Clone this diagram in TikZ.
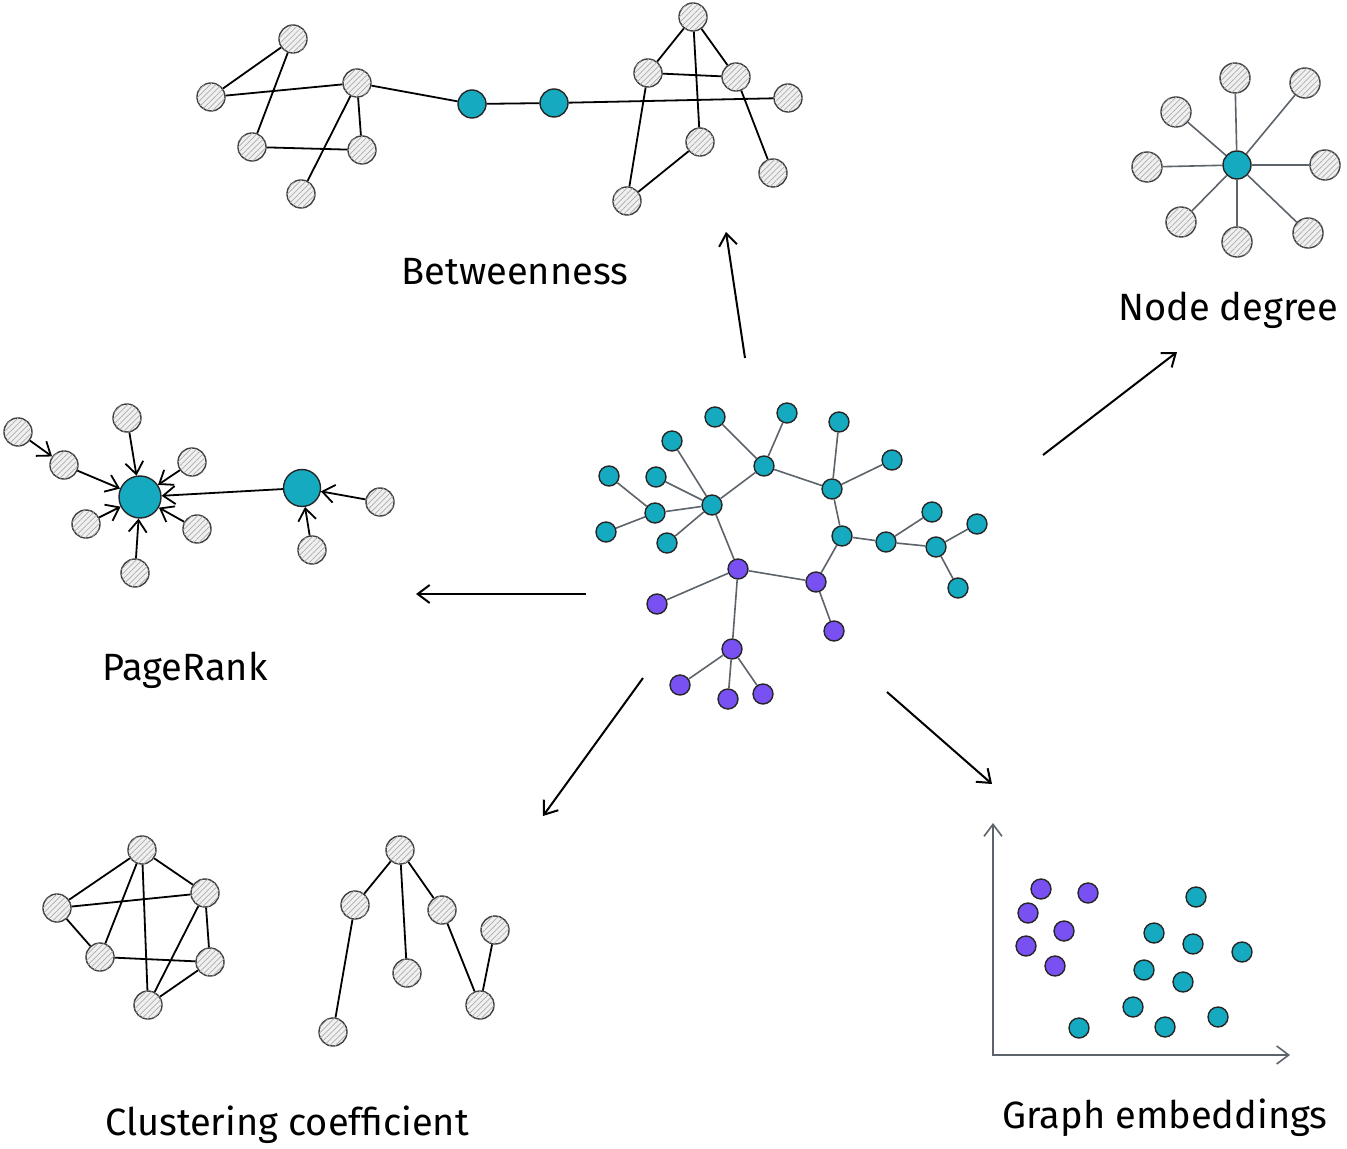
\documentclass[tikz,border=0pt]{standalone}
\usepackage{fontspec}
\setmainfont{Fira Sans}
\usetikzlibrary{arrows.meta, patterns.meta}

\definecolor{nteal}{HTML}{15AABF}
\definecolor{nviolet}{HTML}{7950F2}
\definecolor{nline}{HTML}{5C636A}

\begin{document}
\begin{tikzpicture}[x=0.5pt, y=-0.5pt, >={Straight Barb[length=6pt, width=9pt]},
  gn/.style={circle, draw=black!75, line width=0.7pt, fill=gray!12, postaction={pattern={Lines[angle=45, distance=2pt, line width=0.35pt]}, pattern color=gray!65}, minimum size=14pt, inner sep=0pt},
  tn/.style={circle, draw=black!85, line width=0.7pt, fill=nteal, minimum size=10pt, inner sep=0pt},
  vn/.style={tn, fill=nviolet},
  ed/.style={line width=0.9pt},
  ged/.style={draw=nline, line width=0.8pt},
  big/.style={->, line width=1pt},
  lbl/.style={font=\fontsize{19}{23}\selectfont}]
\useasboundingbox (0,0) rectangle (1347,1149);

% Betweenness
\node[gn] (bl1) at (293,39) {};
\node[gn] (bl2) at (211,97) {};
\node[gn] (bl3) at (357,83) {};
\node[gn] (bl4) at (252,147) {};
\node[gn] (bl5) at (362,150) {};
\node[gn] (bl6) at (301,194) {};
\node[tn, minimum size=14pt] (bt1) at (472,104) {};
\node[tn, minimum size=14pt] (bt2) at (554,103) {};
\node[gn] (br1) at (693,17) {};
\node[gn] (br2) at (648,73) {};
\node[gn] (br3) at (736,77) {};
\node[gn] (br4) at (788,98) {};
\node[gn] (br5) at (700,142) {};
\node[gn] (br6) at (627,201) {};
\node[gn] (br7) at (773,173) {};
\draw[ed] (bl1) -- (bl2) (bl1) -- (bl4) (bl2) -- (bl3) (bl3) -- (bl5) (bl3) -- (bl6) (bl4) -- (bl5)
  (bl3) -- (bt1) (bt1) -- (bt2) (bt2) -- (br4)
  (br1) -- (br2) (br1) -- (br3) (br1) -- (br5) (br2) -- (br3) (br2) -- (br6) (br6) -- (br5) (br3) -- (br7);
\node[lbl] (betw) at (515,272) {Betweenness};

% Node degree
\node[tn, minimum size=14pt] (dc) at (1237,165) {};
\node[gn, minimum size=15pt] (d1) at (1235,78) {};
\node[gn, minimum size=15pt] (d2) at (1305,83) {};
\node[gn, minimum size=15pt] (d3) at (1176,112) {};
\node[gn, minimum size=15pt] (d4) at (1147,167) {};
\node[gn, minimum size=15pt] (d5) at (1325,165) {};
\node[gn, minimum size=15pt] (d6) at (1181,222) {};
\node[gn, minimum size=15pt] (d7) at (1237,242) {};
\node[gn, minimum size=15pt] (d8) at (1308,233) {};
\draw[ged] (dc) -- (d1) (dc) -- (d2) (dc) -- (d3) (dc) -- (d4) (dc) -- (d5) (dc) -- (d6) (dc) -- (d7) (dc) -- (d8);
\node[lbl, anchor=east] (deg) at (1345,310) {Node degree};

% PageRank
\node[tn, minimum size=21pt] (pr1) at (140,497) {};
\node[tn, minimum size=18.5pt] (pr2) at (302,488) {};
\node[gn] (g1) at (18,432) {};
\node[gn] (g2) at (64,465) {};
\node[gn] (g3) at (127,418) {};
\node[gn] (g4) at (192,462) {};
\node[gn] (g5) at (86,524) {};
\node[gn] (g6) at (197,529) {};
\node[gn] (g7) at (135,573) {};
\node[gn] (g8) at (380,502) {};
\node[gn] (g9) at (312,550) {};
\draw[->, ed] (g1) -- (g2);
\draw[->, ed] (g2) -- (pr1);
\draw[->, ed] (g3) -- (pr1);
\draw[->, ed] (g4) -- (pr1);
\draw[->, ed] (g5) -- (pr1);
\draw[->, ed] (g6) -- (pr1);
\draw[->, ed] (g7) -- (pr1);
\draw[->, ed] (pr2) -- (pr1);
\draw[->, ed] (g8) -- (pr2);
\draw[->, ed] (g9) -- (pr2);
\node[lbl] (prk) at (185,670) {PageRank};

% central graph
\node[tn] (c1) at (715,417) {};
\node[tn] (c2) at (787,413) {};
\node[tn] (c3) at (672,441) {};
\node[tn] (c4) at (839,422) {};
\node[tn] (c5) at (609,476) {};
\node[tn] (c6) at (656,477) {};
\node[tn] (c7) at (764,466) {};
\node[tn] (c8) at (892,460) {};
\node[tn] (c9) at (832,489) {};
\node[tn] (c10) at (712,505) {};
\node[tn] (c11) at (655,513) {};
\node[tn] (c12) at (606,532) {};
\node[tn] (c13) at (667,543) {};
\node[tn] (c14) at (932,512) {};
\node[tn] (c15) at (977,524) {};
\node[tn] (c16) at (842,536) {};
\node[tn] (c17) at (886,542) {};
\node[tn] (c18) at (936,547) {};
\node[tn] (c19) at (958,588) {};
\node[vn] (p1) at (738,569) {};
\node[vn] (p2) at (816,582) {};
\node[vn] (p3) at (657,604) {};
\node[vn] (p4) at (834,631) {};
\node[vn] (p5) at (732,649) {};
\node[vn] (p6) at (680,685) {};
\node[vn] (p7) at (728,699) {};
\node[vn] (p8) at (763,694) {};
\draw[ged] (c1) -- (c7) (c2) -- (c7) (c7) -- (c10) (c7) -- (c9) (c4) -- (c9) (c8) -- (c9) (c9) -- (c16)
  (c3) -- (c10) (c6) -- (c10) (c11) -- (c10) (c13) -- (c10) (c5) -- (c11) (c12) -- (c11) (c10) -- (p1)
  (c16) -- (c17) (c17) -- (c14) (c17) -- (c18) (c18) -- (c15) (c18) -- (c19)
  (p2) -- (c16) (p1) -- (p2) (p1) -- (p3) (p1) -- (p5) (p2) -- (p4) (p5) -- (p6) (p5) -- (p7) (p5) -- (p8);

% arrows out of the centre
\coordinate (upA) at (745,358);  \coordinate (upB) at (726,232);
\coordinate (ndA) at (1043,455); \coordinate (ndB) at (1177,352);
\coordinate (lfA) at (586,594);  \coordinate (lfB) at (416,594);
\coordinate (dlA) at (643,678);  \coordinate (dlB) at (543,816);
\coordinate (drA) at (887,692);  \coordinate (drB) at (992,784);
\draw[big] (upA) -- (upB);
\draw[big] (ndA) -- (ndB);
\draw[big] (lfA) -- (lfB);
\draw[big] (dlA) -- (dlB);
\draw[big] (drA) -- (drB);

% Clustering coefficient
\node[gn] (k1) at (142,850) {};
\node[gn] (k2) at (57,908) {};
\node[gn] (k3) at (205,893) {};
\node[gn] (k4) at (100,957) {};
\node[gn] (k5) at (210,962) {};
\node[gn] (k6) at (148,1005) {};
\draw[ed] (k1) -- (k2) (k1) -- (k4) (k1) -- (k6) (k1) -- (k3) (k2) -- (k3) (k2) -- (k4)
  (k4) -- (k5) (k3) -- (k6) (k3) -- (k5) (k5) -- (k6);
\node[gn] (m1) at (400,850) {};
\node[gn] (m2) at (355,905) {};
\node[gn] (m3) at (442,910) {};
\node[gn] (m4) at (407,973) {};
\node[gn] (m5) at (495,930) {};
\node[gn] (m6) at (480,1005) {};
\node[gn] (m7) at (333,1032) {};
\draw[ed] (m1) -- (m2) (m1) -- (m4) (m1) -- (m3) (m2) -- (m7) (m3) -- (m6) (m6) -- (m5);
\node[lbl] (clus) at (287,1125) {Clustering coefficient};

% Graph embeddings
\coordinate (orig) at (993,1055);
\coordinate (ytop) at (993,823);
\coordinate (xend) at (1290,1055);
\draw[<->, draw=nline, line width=0.8pt] (ytop) -- (orig) -- (xend);
\node[vn] (e1) at (1041,889) {};
\node[vn] (e2) at (1088,893) {};
\node[vn] (e3) at (1028,913) {};
\node[vn] (e4) at (1064,931) {};
\node[vn] (e5) at (1026,946) {};
\node[vn] (e6) at (1055,966) {};
\node[tn] (e7) at (1196,897) {};
\node[tn] (e8) at (1154,933) {};
\node[tn] (e9) at (1193,944) {};
\node[tn] (e10) at (1242,952) {};
\node[tn] (e11) at (1144,970) {};
\node[tn] (e12) at (1183,982) {};
\node[tn] (e13) at (1133,1007) {};
\node[tn] (e14) at (1218,1017) {};
\node[tn] (e15) at (1165,1027) {};
\node[tn] (e16) at (1079,1028) {};
\node[lbl] (emb) at (1165,1118) {Graph embeddings};
\end{tikzpicture}
\end{document}
